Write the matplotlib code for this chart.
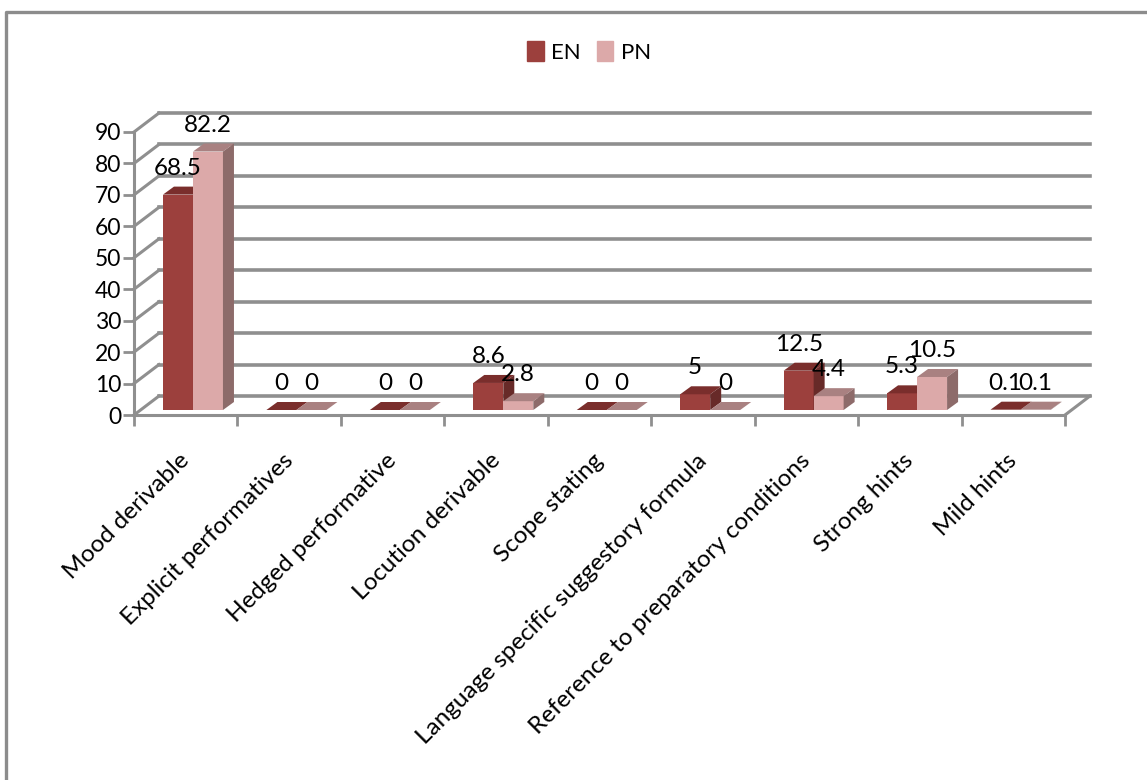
import numpy as np
import matplotlib
matplotlib.use("Agg")
import matplotlib.pyplot as plt
from matplotlib.lines import Line2D
from matplotlib.patches import Patch
from matplotlib.transforms import ScaledTranslation

categories = ["Mood derivable", "Explicit performatives", "Hedged performative",
              "Locution derivable", "Scope stating", "Language specific suggestory formula",
              "Reference to preparatory conditions", "Strong hints", "Mild hints"]
en_values = [68.5, 0, 0, 8.6, 0, 5, 12.5, 5.3, 0.1]
pn_values = [82.2, 0, 0, 2.8, 0, 0, 4.4, 10.5, 0.1]
y_ticks = [0, 10, 20, 30, 40, 50, 60, 70, 80, 90]

plt.rcParams['font.family'] = ['Lato', 'DejaVu Sans']
W, H = 1147, 780
fig = plt.figure(figsize=(W / 100, H / 100), dpi=100)
# front plane of the fake 3d box, in pixels
left, right, top, bottom = 134, 1065, 132, 415
ax = fig.add_axes([left / W, 1 - bottom / H, (right - left) / W, (bottom - top) / H])
ax.set_xlim(0, 9)
ax.set_ylim(0, 90)
ax.patch.set_visible(False)

px_x = 9 / (right - left)  # data units per pixel
px_y = 90 / (bottom - top)
GRID = "#8f8f8f"
back_dx, back_dy = 25 * px_x, 19 * px_y  # box depth
bar_dx, bar_dy = 11 * px_x, 8 * px_y     # bar depth
base = 5 * px_y                          # bars stand a bit inside the floor
bar_w = 0.29
start = 0.28

# walls and grid
for t in y_ticks:
    ax.plot([0, back_dx], [t, t + back_dy], color=GRID, lw=2.2, clip_on=False, zorder=1)
    ax.plot([back_dx, 9 + back_dx], [t + back_dy, t + back_dy], color=GRID, lw=2.6,
            clip_on=False, zorder=1)
ax.plot([9, 9 + back_dx], [0, back_dy], color=GRID, lw=2.2, clip_on=False, zorder=1)


def draw_bar(x, v, front, roof, side, z):
    y0 = base
    y1 = base + v
    ax.bar(x, v, bar_w, bottom=y0, align="edge", color=front, zorder=z, clip_on=False)
    ax.fill([x, x + bar_dx, x + bar_w + bar_dx, x + bar_w],
            [y1, y1 + bar_dy, y1 + bar_dy, y1], color=roof, lw=0, zorder=z, clip_on=False)
    ax.fill([x + bar_w, x + bar_w + bar_dx, x + bar_w + bar_dx, x + bar_w],
            [y0, y0 + bar_dy, y1 + bar_dy, y1], color=side, lw=0, zorder=z, clip_on=False)
    ax.annotate(str(v), (x + bar_w / 2, y1), xytext=(0, 19), textcoords="offset points",
                ha="center", va="center", fontsize=17.5, color="black", zorder=20,
                annotation_clip=False)


for i in range(len(categories)):
    draw_bar(i + start, en_values[i], "#9c403d", "#7a2e2c", "#672a28", 3 + i * 2)
    draw_bar(i + start + bar_w, pn_values[i], "#dca9a9", "#a98181", "#8d6b6a", 4 + i * 2)

# axes
for name in ["top", "right"]:
    ax.spines[name].set_visible(False)
for name in ["left", "bottom"]:
    ax.spines[name].set_color(GRID)
    ax.spines[name].set_linewidth(2.2)
ax.set_yticks(y_ticks)
ax.set_xticks(np.arange(10))
ax.set_xticklabels([])
ax.set_xticks(np.arange(9) + 0.5, minor=True)
ax.set_xticklabels(categories, minor=True, rotation=45, ha="right", va="top",
                   rotation_mode="anchor", fontsize=17.5)
ax.tick_params(axis="x", which="major", length=8, width=2, color=GRID)
ax.tick_params(axis="x", which="minor", length=0, pad=25)
ax.tick_params(axis="y", length=8, width=2, color=GRID, labelsize=16.5, pad=1)
# labels end a little left of the category centre
shift = ScaledTranslation(-7 / 100, 0, fig.dpi_scale_trans)
for lab in ax.get_xticklabels(minor=True):
    lab.set_transform(lab.get_transform() + shift)

# legend on top
handles = [Patch(color="#9c403d", label="EN"), Patch(color="#dca9a9", label="PN")]
fig.legend(handles=handles, loc="center", bbox_to_anchor=(589 / W, 1 - 52 / H), ncol=2,
           frameon=False, fontsize=16, handlelength=0.75, handleheight=1.0,
           handletextpad=0.35, columnspacing=0.7)

# outer chart frame
fig.add_artist(Line2D([6 / W, 6 / W, 1], [0, 1 - 12 / H, 1 - 12 / H], color="#8c8c8c", lw=2.4))

fig.savefig("out.png", dpi=100)
